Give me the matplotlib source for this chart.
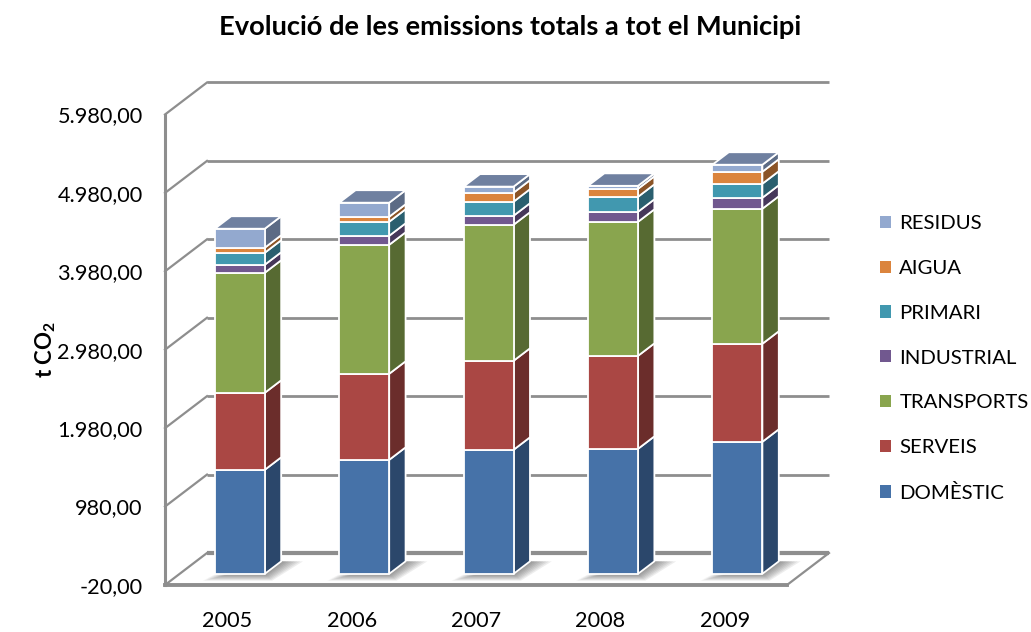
import matplotlib
matplotlib.use('Agg')
import matplotlib.pyplot as plt
from matplotlib.patches import Polygon, Patch

plt.rcParams['font.family'] = ['Lato', 'DejaVu Sans']
plt.rcParams['mathtext.fontset'] = 'custom'
plt.rcParams['mathtext.bf'] = 'Lato:bold'

years = ['2005', '2006', '2007', '2008', '2009']
domestic = [1327, 1454, 1582, 1594, 1684]
serveis = [982, 1097, 1135, 1186, 1250]
transports = [1531, 1645, 1735, 1709, 1722]
industrial = [102, 115, 115, 128, 140]
primari = [153, 179, 179, 191, 179]
aigua = [64, 64, 115, 102, 153]
residus = [242, 179, 77, 38, 89]

names = ['DOMÈSTIC', 'SERVEIS', 'TRANSPORTS', 'INDUSTRIAL', 'PRIMARI', 'AIGUA', 'RESIDUS']
series = [domestic, serveis, transports, industrial, primari, aigua, residus]
front_colors = ['#4672A8', '#AA4744', '#89A54E', '#71588F', '#4198AF', '#DB843D', '#93A9CF']
side_colors = ['#2B476B', '#6B2D2B', '#576A32', '#46375A', '#2A5F6F', '#8B5427', '#5C6B85']
top_color = '#6F80A0'

y_ticks = [-20, 980, 1980, 2980, 3980, 4980, 5980]

# oblique depth, one unit of depth in data units (42 px right, 32 px up)
DX = 42 / 124.4
DY = 32 / 78.4 * 1000
BAR_W = 50 / 124.4
D0, D1 = 0.30, 0.69
GRID = '#8E8E8E'


def proj(x, y, d):
    return (x + d * DX, y + d * DY)


def fmt(v):
    return f'{v:,.2f}'.replace(',', 'X').replace('.', ',').replace('X', '.')


def add_poly(ax, pts, **kw):
    ax.add_patch(Polygon(pts, closed=True, clip_on=False, **kw))


fig = plt.figure(figsize=(10.31, 6.32), dpi=100)
ax = fig.add_axes([165 / 1031, 47 / 632, 622 / 1031, 470.5 / 632])
ax.set_xlim(0, len(years))
ax.set_ylim(y_ticks[0], y_ticks[-1])
for s in ax.spines.values():
    s.set_visible(False)

# walls and floor
ymin, ymax = y_ticks[0], y_ticks[-1]
nx = len(years)
for v in y_ticks:
    lw = 3.0 if v == ymin else 2.0
    ax.plot(*zip(proj(0, v, 1), proj(nx, v, 1)), color=GRID, lw=lw, clip_on=False, zorder=1,
            solid_capstyle='butt')
    ax.plot(*zip(proj(0, v, 0), proj(0, v, 1)), color=GRID, lw=1.6, clip_on=False, zorder=1)
ax.plot([0, 0], [ymin, ymax], color=GRID, lw=2.2, clip_on=False, zorder=2)
ax.plot([0, nx], [ymin, ymin], color=GRID, lw=2.8, clip_on=False, zorder=2)
ax.plot(*zip(proj(nx, ymin, 0), proj(nx, ymin, 1)), color=GRID, lw=1.6, clip_on=False, zorder=1)

# bars, bottom segment first
for i in range(nx):
    xc = i + 0.5
    x0, x1 = xc - BAR_W / 2, xc + BAR_W / 2

    # floor shadow, darker next to the bar
    for k in range(8):
        grow = 0.02 + k * 0.025
        sh = [proj(x0 - grow * 0.5, 0 - grow * 450, D0), proj(x1 + grow * 0.3, 0 - grow * 450, D0),
              proj(x1 + grow * 0.9, 0, D1), proj(x1, 0, D1)]
        add_poly(ax, sh, facecolor='#404040', edgecolor='none', alpha=0.09, zorder=3)

    base = 0
    for j, vals in enumerate(series):
        top = base + vals[i]
        side = [proj(x1, base, D0), proj(x1, base, D1), proj(x1, top, D1), proj(x1, top, D0)]
        add_poly(ax, side, facecolor=side_colors[j], edgecolor='white', lw=1.3, zorder=4,
                 joinstyle='round')
        add_poly(ax, [proj(x0, base, D0), proj(x1, base, D0), proj(x1, top, D0), proj(x0, top, D0)],
                 facecolor=front_colors[j], edgecolor='white', lw=1.3, zorder=4,
                 joinstyle='round')
        base = top
    add_poly(ax, [proj(x0, base, D0), proj(x1, base, D0), proj(x1, base, D1), proj(x0, base, D1)],
             facecolor=top_color, edgecolor='white', lw=1.3, zorder=4, joinstyle='round')

ax.set_yticks(y_ticks)
ax.set_yticklabels([fmt(v) for v in y_ticks], fontsize=15.6)
ax.set_xticks([i + 0.5 for i in range(nx)])
ax.set_xticklabels(years, fontsize=15.6)
ax.tick_params(axis='y', length=0, pad=16)
ax.tick_params(axis='x', length=0, pad=18.5)

handles = [Patch(facecolor=c, edgecolor='none') for c in front_colors]
ax.legend(handles[::-1], names[::-1], loc='center left',
          bbox_to_anchor=(880 / 1031, 1 - 358.5 / 632),
          bbox_transform=fig.transFigure, frameon=False, fontsize=14.7, labelspacing=1.36,
          handlelength=0.55, handleheight=0.55, handletextpad=0.4, borderpad=0, borderaxespad=0)

fig.text(510 / 1031, 1 - 27 / 632, 'Evolució de les emissions totals a tot el Municipi',
         ha='center', va='center', fontsize=19.6, fontweight='bold')
fig.text(46 / 1031, 1 - 350 / 632, r't CO$\mathbf{_2}$', rotation=90, ha='center', va='center',
         fontsize=16, fontweight='bold')

fig.savefig('out.png', dpi=100)
